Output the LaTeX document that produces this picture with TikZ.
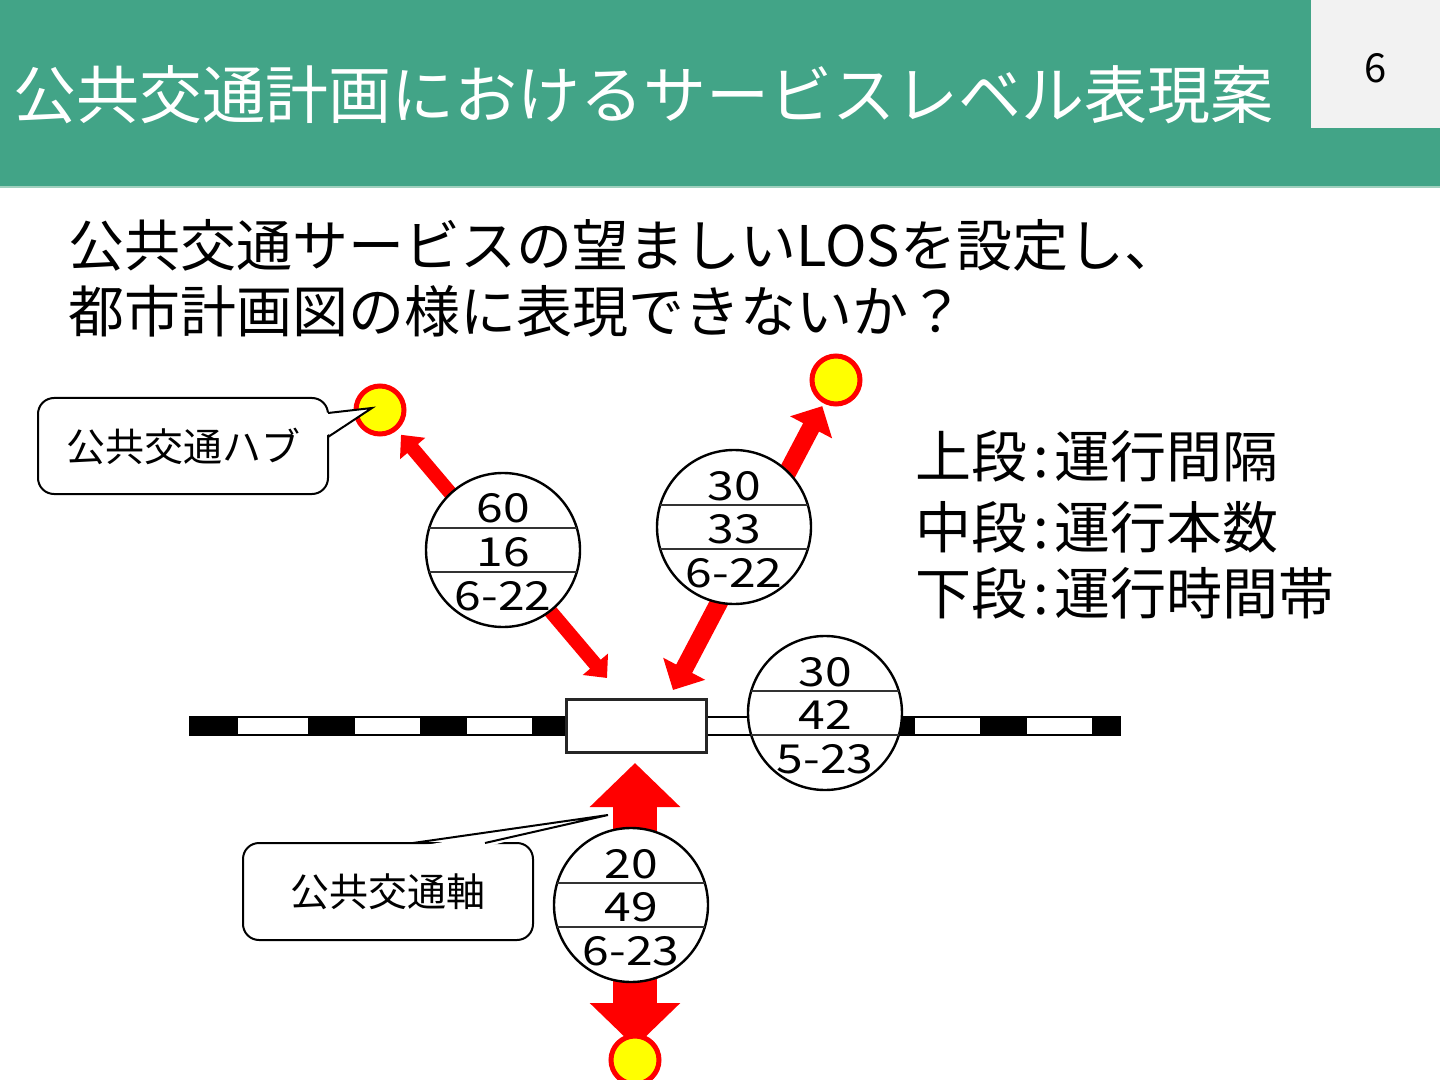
\documentclass[tikz,border=0pt]{standalone}
\usepackage{fontspec}
\usepackage{graphicx}
\setmainfont{Noto Sans CJK JP}
\usetikzlibrary{arrows.meta,backgrounds,calc}
\definecolor{bargreen}{RGB}{66,164,135}
\definecolor{barline}{RGB}{160,208,190}
\definecolor{pagegray}{RGB}{242,242,242}
\definecolor{hubred}{RGB}{255,0,0}
\definecolor{hubyellow}{RGB}{255,255,0}
\newcommand\losnum[1]{\scalebox{1.2}[1]{#1}}
\begin{document}
\begin{tikzpicture}[x=0.5pt,y=-0.5pt,
  hub/.style={circle, fill=hubyellow, draw=hubred, line width=2.5pt, minimum size=24pt, inner sep=0pt},
  los/.style={circle, fill=white, draw=black, line width=1.2pt, minimum size=77pt, inner sep=0pt},
  chord/.style={draw=black!80, line width=0.9pt},
  num/.style={font=\fontsize{20}{24}\selectfont, anchor=base, inner sep=0pt},
  callout/.style={draw=black, line width=1pt, rounded corners=8pt, fill=white, font=\fontsize{19.5}{24}\selectfont, inner sep=0pt, outer sep=0pt},
  pointer/.style={draw=black, line width=1pt, line join=miter},
  arrA/.style={draw=hubred, line width=7pt, arrows={Triangle[width=16pt,length=9pt]-Triangle[width=16pt,length=9pt]}},
  arrB/.style={draw=hubred, line width=9pt, arrows={Triangle[width=23pt,length=12pt]-Triangle[width=23pt,length=12pt]}},
  arrC/.style={draw=hubred, line width=22pt, arrows={Triangle[width=44pt,length=22pt]-Triangle[width=44pt,length=22pt]}},
  legend/.style={anchor=base west, inner sep=0pt, font=\fontsize{28}{34}\selectfont}
]
\useasboundingbox (0,0) rectangle (1440,1080);
% title bar
\fill[bargreen] (0,0) rectangle (1440,187);
\draw[barline, line width=1pt] (0,187) -- (1440,187);
\fill[pagegray] (1311,0) rectangle (1440,128);
\node[anchor=base west, inner sep=0pt, text=white, font=\fontsize{31.5}{36}\selectfont] (title) at (13,119) {公共交通計画におけるサービスレベル表現案};
\node[font=\fontsize{20}{24}\selectfont, inner sep=0pt] (page) at (1376,68) {6};
% subtitle
\node[anchor=base west, inner sep=0pt, font=\fontsize{28}{34}\selectfont] (sub1) at (68,267) {公共交通サービスの望ましいLOSを設定し、};
\node[anchor=base west, inner sep=0pt, font=\fontsize{28}{34}\selectfont] (sub2) at (68,333) {都市計画図の様に表現できないか？};
% legend
\node[legend] (leg1) at (915,477) {上段\kern3pt:\kern3pt運行間隔};
\node[legend] (leg2) at (915,548) {中段\kern3pt:\kern3pt運行本数};
\node[legend] (leg3) at (915,614) {下段\kern3pt:\kern3pt運行時間帯};
% hubs
\node[hub] (hubA) at (380,410) {};
\node[hub] (hubB) at (836,380) {};
\node[hub] (hubC) at (635,1060) {};
% station
\node[draw=black!85, line width=1.5pt, fill=white, minimum width=70pt, minimum height=26.5pt, inner sep=0pt, outer sep=0pt] (station) at (636.5,726) {};
\coordinate (a1) at (607,678);
\coordinate (a2) at (673,690);
\coordinate (a3) at (635,763);
% LOS circles
\foreach \n/\x/\y/\p/\q/\r in {c1/503/550/60/16/6-22, c2/734/527/30/33/6-22, c3/825/713/30/42/5-23, c4/631/905/20/49/6-23}{
  \node[los] (\n) at (\x,\y) {};
  \draw[chord] ($(\n)+(-74,-22)$) -- ($(\n)+(74,-22)$);
  \draw[chord] ($(\n)+(-74,22)$) -- ($(\n)+(74,22)$);
  \node[num] (\n t1) at ($(\n)+(0,-27)$) {\losnum{\p}};
  \node[num] (\n t2) at ($(\n)+(0,16)$) {\losnum{\q}};
  \node[num] (\n t3) at ($(\n)+(0,60)$) {\losnum{\r}};
}
% railway and arrows underneath
\begin{pgfonlayer}{background}
  \fill[white] (0,188) rectangle (1440,1080);
  \fill[white] (190,717) rectangle (1120,735);
  \foreach \a/\b in {190/238,308/355,420/467,532/565,868/915,980/1027,1092/1120}
    \fill[black] (\a,717) rectangle (\b,735);
  \draw[black, line width=0.6pt] (190,717) rectangle (1120,735);
  \draw[arrA, shorten <=3pt] (hubA) -- (a1);
  \draw[arrB, shorten <=1.5pt] (hubB) -- (a2);
  \draw[arrC, shorten >=6.5pt] (a3) -- (hubC.center);
\end{pgfonlayer}
% callouts
\node[callout, minimum width=145pt, minimum height=48pt] (hubcall) at (183,446) {公共交通ハブ};
\coordinate (hubtip) at (372,408);
\fill[white] ($(hubcall.east)+(-4,-33)$) -- (hubtip) -- ($(hubcall.east)+(-4,-9)$) -- cycle;
\draw[pointer] ($(hubcall.east)+(0,-33)$) -- (hubtip) -- ($(hubcall.east)+(0,-9)$);
\node[callout, minimum width=145pt, minimum height=48.5pt] (axcall) at (388,891.5) {公共交通軸};
\coordinate (axtip) at (608,815);
\fill[white] ($(axcall.north)+(25,4)$) -- (axtip) -- ($(axcall.north)+(97,4)$) -- cycle;
\draw[pointer] ($(axcall.north)+(25,0)$) -- (axtip) -- ($(axcall.north)+(97,0)$);
\end{tikzpicture}
\end{document}
